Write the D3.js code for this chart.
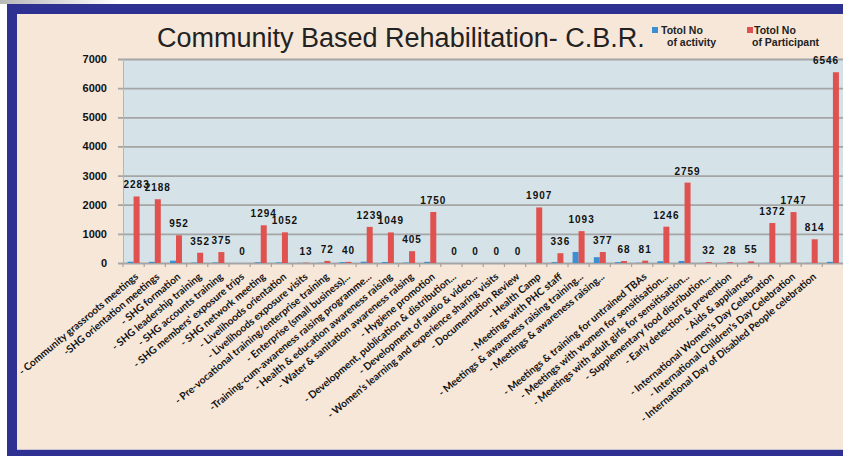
<!DOCTYPE html>
<html lang="en">
<head>
<meta charset="UTF-8">
<title>Community Based Rehabilitation- C.B.R.</title>
<script src="https://d3js.org/d3.v7.min.js"></script>
<style>
    body { margin: 0; background: #ffffff; }
    svg { display: block; }
</style>
</head>
<body>
<svg id="chart" width="843" height="456"></svg>
<script type="text/javascript">

var categories = [
    "- Community grassroots meetings",
    "-SHG orientation meetings",
    "- SHG formation",
    "- SHG leadership training",
    "- SHG accounts training",
    "- SHG members' exposure trips",
    "- SHG network meeting",
    "- Livelihoods orientation",
    "- Livelihoods exposure visits",
    "- Pre-vocational training/enterprise training",
    "- Enterprise (small business)...",
    "-Training-cum-awareness raising programme...",
    "- Health & education awareness raising",
    "- Water & sanitation awareness raising",
    "- Hygiene promotion",
    "- Development, publication & distribution...",
    "- Development of audio & video...",
    "- Women's learning and experience sharing visits",
    "- Documentation Review",
    "- Health Camp",
    "- Meetings with PHC staff",
    "- Meetings & awareness raising training...",
    "- Meetings & awareness raising...",
    "",
    "- Meetings & training for untrained TBAs",
    "- Meetings with women for sensitisation...",
    "- Meetings with adult girls for sensitisation...",
    "- Supplementary food distribution...",
    "- Early detection & prevention",
    "- Aids & appliances",
    "- International Women's Day Celebration",
    "- International Children's Day Celebration",
    "- International Day of Disabled People celebration",
    ""
];

var activity = [45, 40, 80, 15, 20, 0, 25, 20, 5, 10, 30, 45, 35, 15, 40, 0, 0, 0, 0, 5,
                30, 380, 200, 30, 10, 60, 70, 5, 5, 5, 5, 5, 5, 40];

var participant = [2283, 2188, 952, 352, 375, 0, 1294, 1052, 13, 72, 40, 1239, 1049, 405, 1750,
                   0, 0, 0, 0, 1907, 336, 1093, 377, 68, 81, 1246, 2759, 32, 28, 55, 1372, 1747, 814, 6546];

var yTicks = [0, 1000, 2000, 3000, 4000, 5000, 6000, 7000];

var seriesNames = ["Totol No of activity", "Totol No of Participant"];
var legendLines = [["Totol No", "of activity"], ["Totol No", "of Participant"]];

var blue = "#3d8fd3", red = "#e0524f";

var svg = d3.select("#chart");

// frame
var grad = svg.append("defs").append("linearGradient").attr("id", "topg");
grad.append("stop").attr("offset", "0%").attr("stop-color", "#b8b8b8");
grad.append("stop").attr("offset", "100%").attr("stop-color", "#ffffff");
svg.append("rect").attr("x", 0).attr("y", 0).attr("width", 120).attr("height", 4).attr("fill", "url(#topg)");
svg.append("rect").attr("x", 7).attr("y", 4).attr("width", 836).attr("height", 452).attr("fill", "#2e3192");
svg.append("rect").attr("x", 17).attr("y", 14).attr("width", 826).attr("height", 436).attr("fill", "#f6e7d9");
svg.append("line").attr("x1", 17).attr("x2", 843).attr("y1", 449.5).attr("y2", 449.5)
    .attr("stroke", "#c9c4d4").attr("stroke-width", 1);

var margin = {left: 123, top: 59, right: 843.5, bottom: 263};

var x = d3.scaleBand().domain(d3.range(categories.length))
    .range([margin.left, margin.right]).padding(0);
var y = d3.scaleLinear().domain([0, 7000]).range([margin.bottom, margin.top]);

// plot area
svg.append("rect").attr("x", margin.left).attr("y", margin.top)
    .attr("width", margin.right - margin.left).attr("height", margin.bottom - margin.top)
    .attr("fill", "#d5e3e8");

// gridlines + y labels
var yAxis = svg.append("g").attr("transform", "translate(" + margin.left + ",0)")
    .call(d3.axisLeft(y).tickValues(yTicks).tickSize(-(margin.right - margin.left)).tickPadding(16)
        .tickFormat(d3.format("d")));
yAxis.select(".domain").remove();
yAxis.selectAll(".tick line").attr("stroke", "#a5a5a5").attr("stroke-width", 1.8).attr("x1", -5);
yAxis.selectAll(".tick text").attr("font-family", "Liberation Sans, Arial, sans-serif")
    .attr("font-size", 11).attr("font-weight", "bold").attr("fill", "#111");

svg.append("line").attr("x1", margin.left + 0.5).attr("x2", margin.left + 0.5)
    .attr("y1", margin.top).attr("y2", margin.bottom).attr("stroke", "#b5b5b5");

// x ticks at category boundaries
svg.append("g").selectAll("line").data(d3.range(categories.length + 1)).enter().append("line")
    .attr("x1", function(d) { return margin.left + d * x.bandwidth(); })
    .attr("x2", function(d) { return margin.left + d * x.bandwidth(); })
    .attr("y1", margin.bottom).attr("y2", margin.bottom + 4)
    .attr("stroke", "#a3a3a3").attr("stroke-width", 1.2);

var bw = 6;

svg.append("g").selectAll("rect").data(activity).enter().append("rect")
    .attr("x", function(d, i) { return x(i) + x.bandwidth() / 2 - bw; })
    .attr("y", function(d) { return y(d); })
    .attr("width", bw)
    .attr("height", function(d) { return y(0) - y(d); })
    .attr("fill", blue);

svg.append("g").selectAll("rect").data(participant).enter().append("rect")
    .attr("x", function(d, i) { return x(i) + x.bandwidth() / 2; })
    .attr("y", function(d) { return y(d); })
    .attr("width", bw)
    .attr("height", function(d) { return y(0) - y(d); })
    .attr("fill", red);

// data labels (kept inside the chart at the right edge)
svg.append("g").selectAll("text").data(participant).enter().append("text")
    .attr("x", function(d, i) { return Math.min(x(i) + x.bandwidth() / 2 + bw / 2, 826); })
    .attr("y", function(d) { return y(d) - 8; })
    .attr("text-anchor", "middle")
    .attr("font-family", "Liberation Sans, Arial, sans-serif")
    .attr("font-size", 10).attr("font-weight", "bold")
    .attr("letter-spacing", 1).attr("fill", "#111")
    .text(function(d) { return d; });

// category labels
svg.append("g").selectAll("text").data(categories).enter().append("text")
    .attr("transform", function(d, i) {
        return "translate(" + (x(i) + x.bandwidth() / 2 + 3) + ",275) rotate(-40)";
    })
    .attr("text-anchor", "end").attr("dy", "0.35em")
    .attr("font-family", "Lato, sans-serif").attr("font-size", 10.2).attr("font-weight", "bold")
    .attr("fill", "#111")
    .text(function(d) { return d; });

// title
svg.append("text").attr("x", 157).attr("y", 47)
    .attr("font-family", "Liberation Sans, Arial, sans-serif").attr("font-size", 27)
    .attr("fill", "#222")
    .text("Community Based Rehabilitation- C.B.R.");

// legend
var legX = [[652, 661, 667], [747, 754, 752]];
var leg = svg.append("g").selectAll("g").data(seriesNames).enter().append("g");
leg.append("rect").attr("x", function(d, i) { return legX[i][0]; })
    .attr("y", 27).attr("width", 6).attr("height", 6)
    .attr("fill", function(d, i) { return i === 0 ? blue : red; });
leg.each(function(d, i) {
    var g = d3.select(this);
    g.append("text").attr("x", legX[i][1]).attr("y", 34).text(legendLines[i][0]);
    g.append("text").attr("x", legX[i][2]).attr("y", 46).text(legendLines[i][1]);
});
leg.selectAll("text").attr("font-family", "Liberation Sans, Arial, sans-serif")
    .attr("font-size", 10.5).attr("font-weight", "bold").attr("fill", "#222");

</script>
</body>
</html>
